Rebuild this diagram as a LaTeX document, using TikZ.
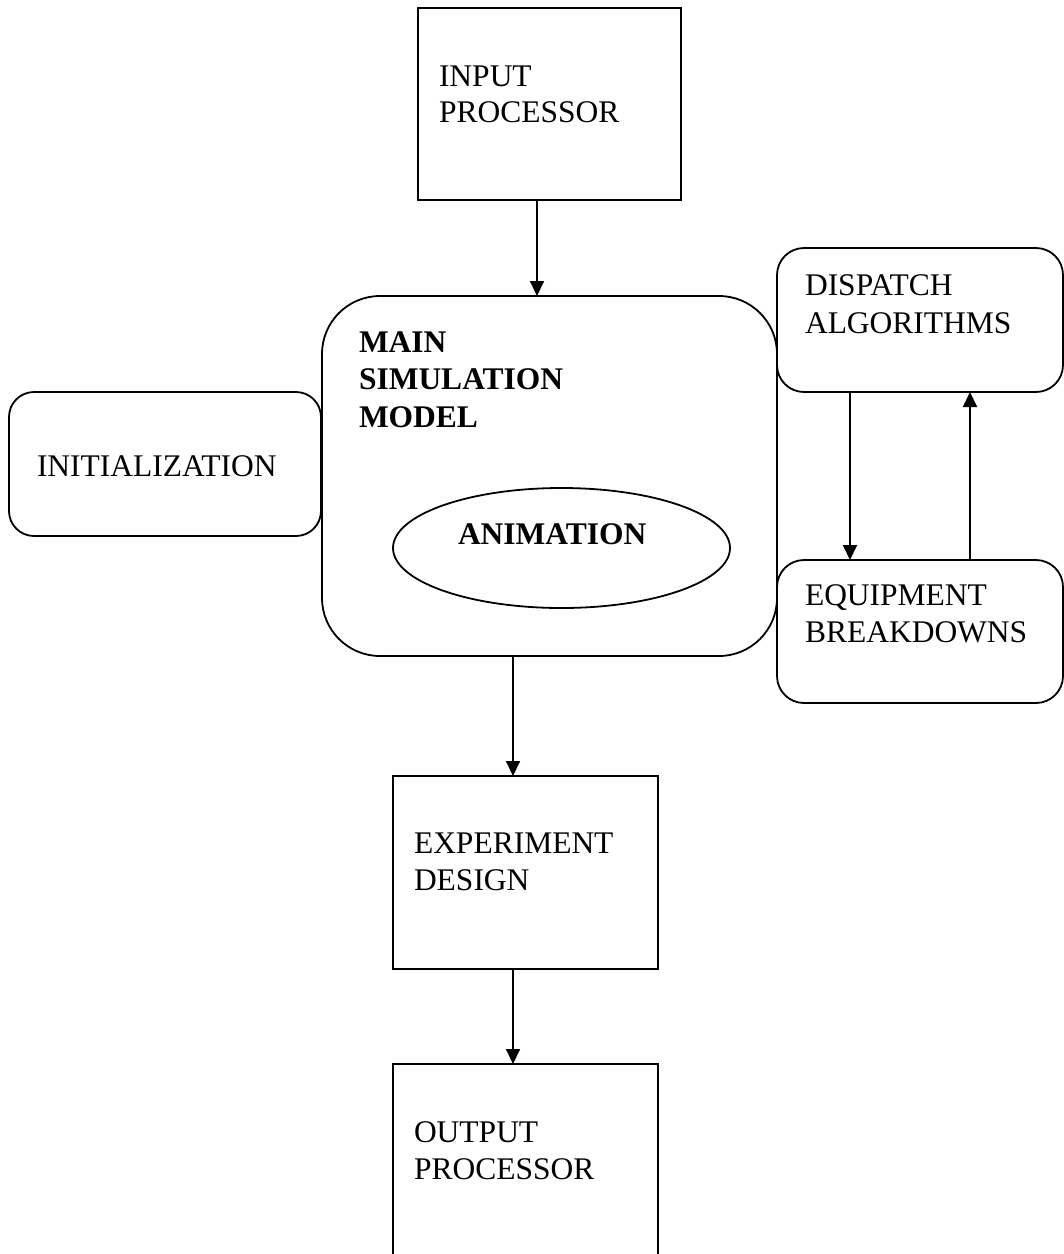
\documentclass[tikz,border=0pt]{standalone}
\usepackage{fontspec}
\setmainfont{Liberation Serif}
\usetikzlibrary{arrows.meta,shapes.geometric}
\begin{document}
\begin{tikzpicture}[x=1pt,y=-1pt,
  box/.style={draw,line width=1.8pt,rectangle,inner sep=0pt,outer sep=0pt},
  rbox/.style={box,rounded corners=#1},
  lbl/.style={anchor=base west,inner sep=0pt,outer sep=0pt,font=\fontsize{31.5}{37.5}\selectfont},
  blbl/.style={lbl,font=\fontsize{31.5}{37.5}\selectfont\bfseries},
  arr/.style={line width=1.8pt,-{Triangle[length=15pt,width=14pt]}}]
\clip (0,0) rectangle (1064,1254);
\fill[white] (0,0) rectangle (1064,1254);
% boxes
\node[box,minimum width=263pt,minimum height=192pt] (input) at (549.4,104) {};
\node[rbox=58pt,minimum width=455pt,minimum height=360pt] (main) at (549.5,476) {};
\node[rbox=25pt,minimum width=312pt,minimum height=144pt] (init) at (165,464) {};
\node[rbox=27pt,minimum width=286pt,minimum height=144pt] (disp) at (920,320) {};
\node[rbox=27pt,minimum width=286pt,minimum height=143pt] (equip) at (920,631.5) {};
\node[draw,line width=1.8pt,ellipse,inner sep=0pt,minimum width=337pt,minimum height=120pt] (anim) at (561.5,548) {};
\node[box,minimum width=265pt,minimum height=193pt] (exp) at (525.5,872.5) {};
\node[box,minimum width=265pt,minimum height=216pt] (out) at (525.5,1172) {};
% texts
\node[lbl] (tin1) at (439,86) {INPUT};
\node[lbl] (tin2) at (439,122) {PROCESSOR};
\node[blbl] (tm1) at (359,352) {MAIN};
\node[blbl] (tm2) at (359,389.5) {SIMULATION};
\node[blbl] (tm3) at (359,427) {MODEL};
\node[lbl] (tinit) at (37,476) {INITIALIZATION};
\node[blbl] (tanim) at (458,544) {ANIMATION};
\node[lbl] (td1) at (805,295) {DISPATCH};
\node[lbl] (td2) at (805,333) {ALGORITHMS};
\node[lbl] (te1) at (805,605) {EQUIPMENT};
\node[lbl] (te2) at (805,642) {BREAKDOWNS};
\node[lbl] (tx1) at (414,853) {EXPERIMENT};
\node[lbl] (tx2) at (414,890) {DESIGN};
\node[lbl] (to1) at (414,1142) {OUTPUT};
\node[lbl] (to2) at (414,1179) {PROCESSOR};
% connectors
\coordinate (c1) at (537,0);
\coordinate (c2) at (513,0);
\coordinate (c3) at (850,0);
\coordinate (c4) at (970,0);
\draw[arr] (input.south -| c1) -- (main.north -| c1);
\draw[arr] (main.south -| c2) -- (exp.north -| c2);
\draw[arr] (exp.south -| c2) -- (out.north -| c2);
\draw[arr] (disp.south -| c3) -- (equip.north -| c3);
\draw[arr] (equip.north -| c4) -- (disp.south -| c4);
\end{tikzpicture}
\end{document}
